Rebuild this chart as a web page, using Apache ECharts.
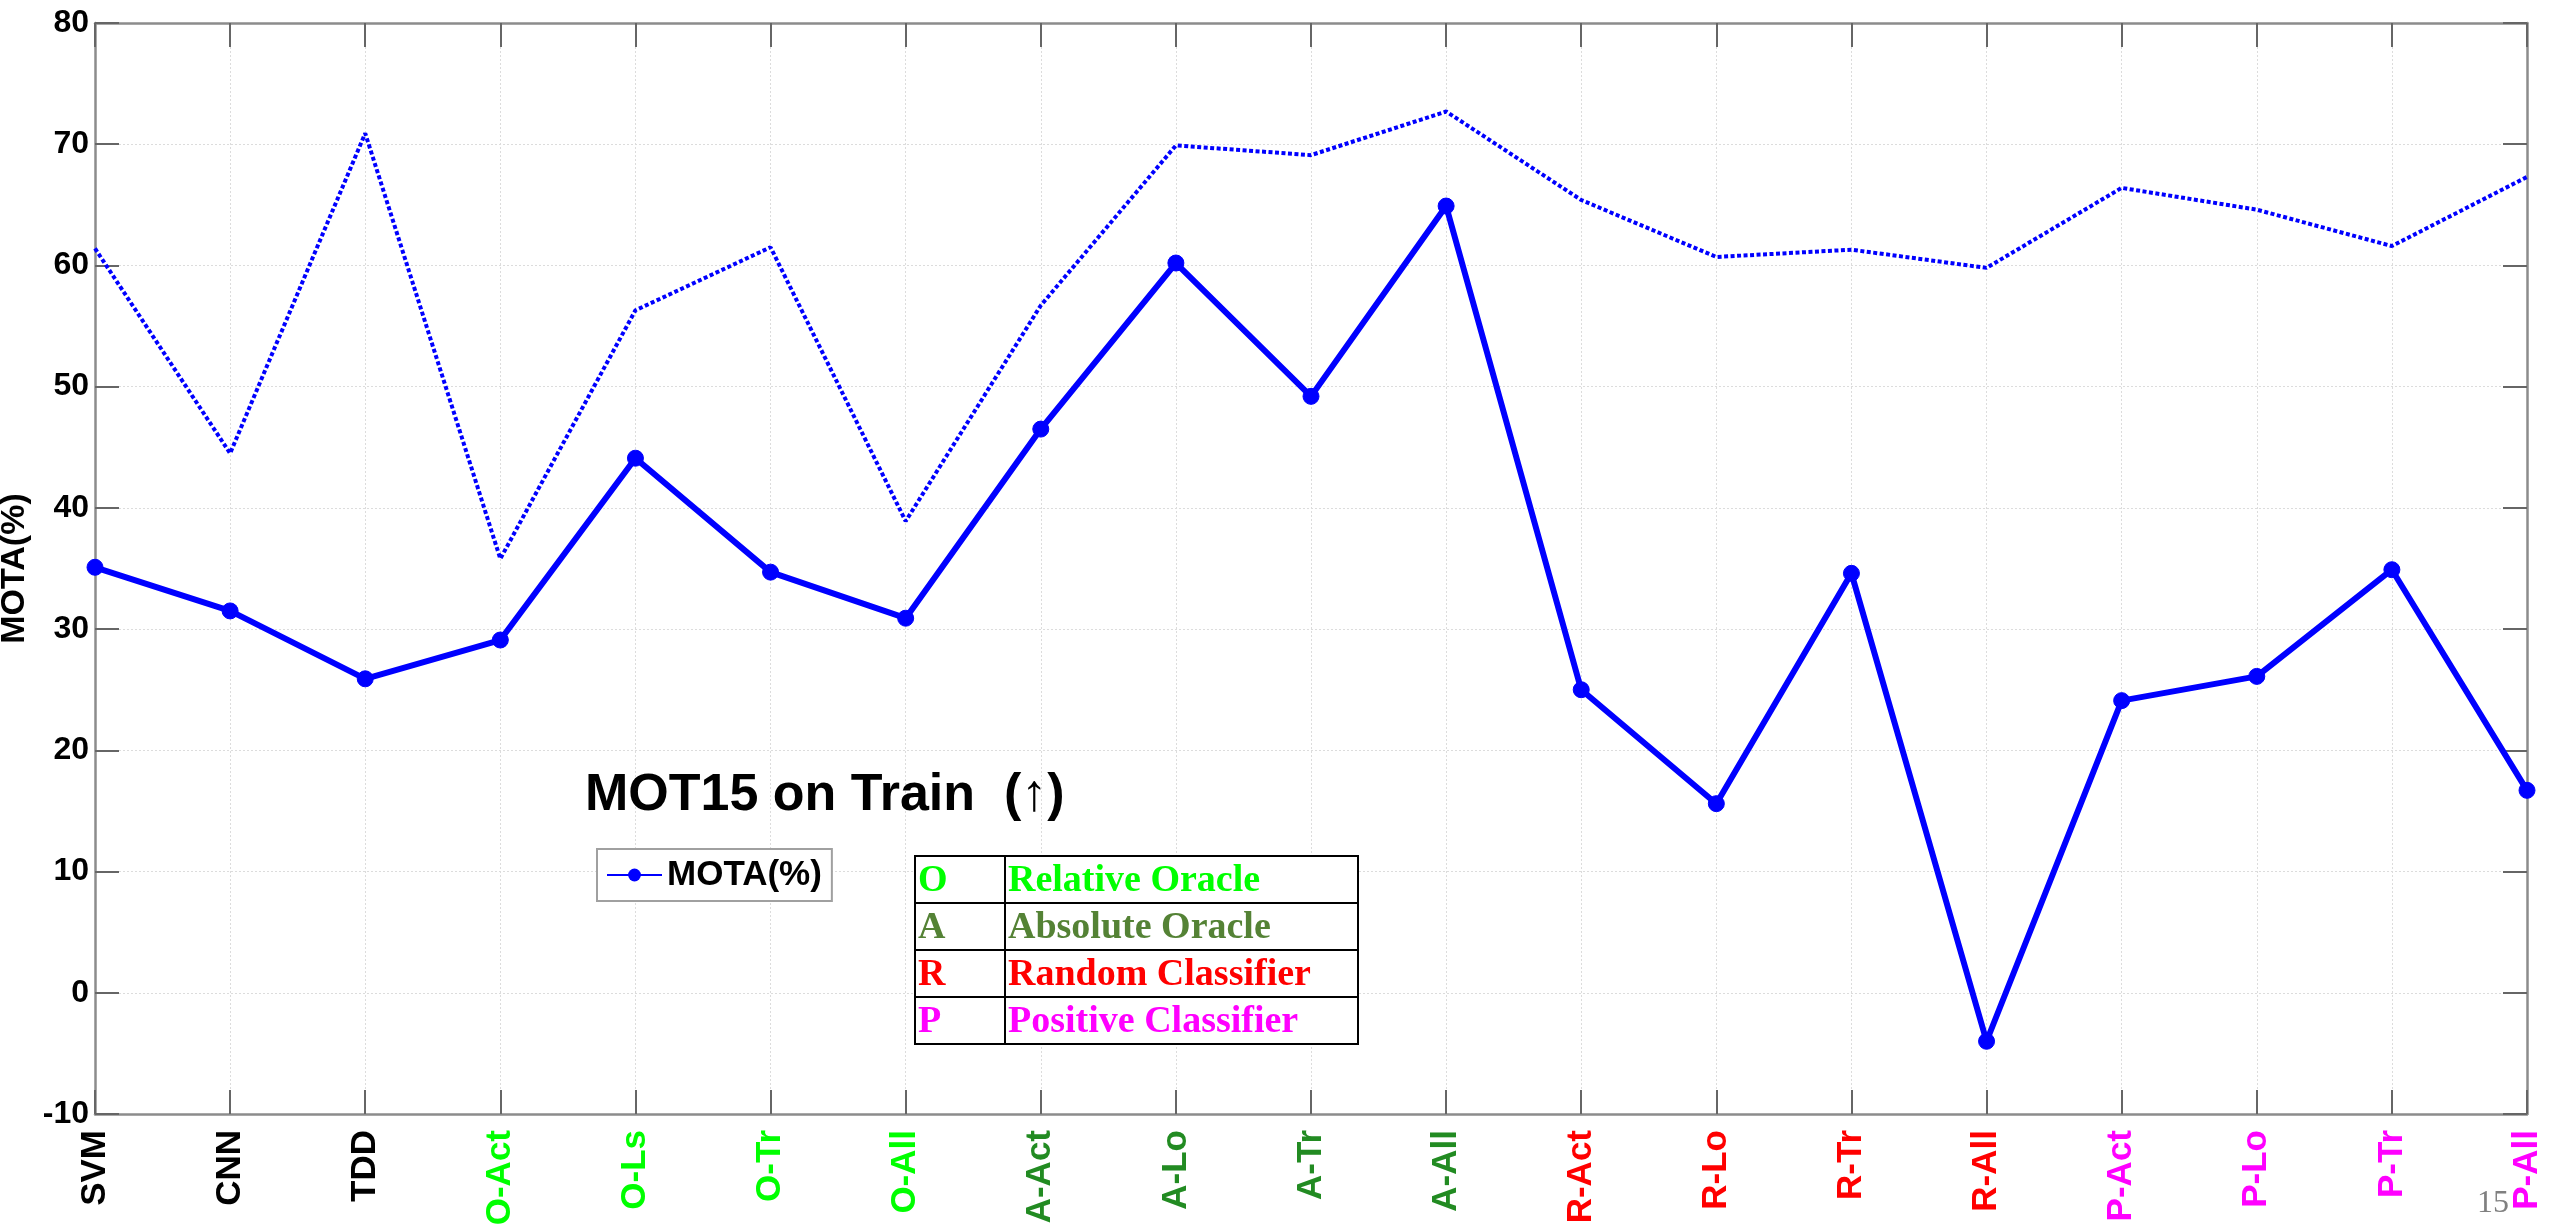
<!DOCTYPE html>
<html>
<head>
<meta charset="utf-8">
<script src="https://cdn.jsdelivr.net/npm/echarts@6/dist/echarts.min.js"></script>
<style>
html, body {margin:0; padding:0; background:#fff;}
#main {width:2560px; height:1226px;}
</style>
</head>
<body>
<div id="main"></div>
<script type="text/javascript">
// categories on the x axis
var methods = ['SVM','CNN','TDD','O-Act','O-Ls','O-Tr','O-All','A-Act','A-Lo','A-Tr','A-All',
               'R-Act','R-Lo','R-Tr','R-All','P-Act','P-Lo','P-Tr','P-All'];
// MOTA(%) - solid line with markers
var mota = [35.1, 31.5, 25.9, 29.1, 44.1, 34.7, 30.9, 46.5, 60.2, 49.2, 64.9,
            25.0, 15.6, 34.6, -4.0, 24.1, 26.1, 34.9, 16.7];
// dotted line (no legend entry)
var upper = [61.4, 44.5, 70.9, 35.8, 56.3, 61.5, 38.9, 56.7, 69.9, 69.1, 72.7,
             65.4, 60.7, 61.3, 59.8, 66.4, 64.6, 61.6, 67.3];
// y ticks
var yMin = -10, yMax = 80, yStep = 10;
// key table
var keyLetters = ['O','A','R','P'];
var keyNames = ['Relative Oracle','Absolute Oracle','Random Classifier','Positive Classifier'];

var prefixColor = {O:'#00ff00', A:'#228b22', R:'#ff0000', P:'#ff00ff'};
var tableColor = {O:'#00ff00', A:'#548235', R:'#ff0000', P:'#ff00ff'};

function labelColor(v) {
	var p = v.charAt(0);
	if (v.charAt(1) === '-' && prefixColor[p]) return prefixColor[p];
	return '#000';
}

var frame = '#8c8c8c';
var sans = '"Liberation Sans", Arial, sans-serif';
var serif = '"Liberation Serif", "Times New Roman", serif';

// table made of graphic pieces
var tx = 915, ty = 856, tw = 443, rowH = 47, colX = 1005;
var tableParts = [{
	type:'rect', shape:{x:tx, y:ty, width:tw, height:rowH*keyLetters.length},
	style:{fill:'#fff', stroke:'#000', lineWidth:2}, z:100
}, {
	type:'line', shape:{x1:colX, y1:ty, x2:colX, y2:ty+rowH*keyLetters.length},
	style:{stroke:'#000', lineWidth:2}, z:101
}];
for (var i = 0; i < keyLetters.length; i++) {
	if (i > 0) {
		tableParts.push({type:'line', shape:{x1:tx, y1:ty+rowH*i, x2:tx+tw, y2:ty+rowH*i},
			style:{stroke:'#000', lineWidth:2}, z:101});
	}
	var c = tableColor[keyLetters[i]];
	tableParts.push({type:'text', x:tx+3, y:ty+rowH*i+rowH/2+2, z:102,
		style:{text:keyLetters[i], fill:c, font:'bold 38px ' + serif,
			textAlign:'left', textVerticalAlign:'middle'}});
	tableParts.push({type:'text', x:colX+3, y:ty+rowH*i+rowH/2+2, z:102,
		style:{text:keyNames[i], fill:c, font:'bold 38px ' + serif,
			textAlign:'left', textVerticalAlign:'middle'}});
}

var myChart = echarts.init(document.getElementById('main'));
var option = {
	backgroundColor:'#fff',
	animation:false,
	grid:{left:95, right:33, top:23, bottom:112, containLabel:false, outerBoundsMode:'none'},
	legend:{
		data:['MOTA(%)'],
		left:597, top:849,
		orient:'vertical',
		padding:[6, 10, 6, 9],
		borderColor:'#a0a0a0', borderWidth:2,
		backgroundColor:'#fff',
		itemWidth:55, itemHeight:16,
		textStyle:{fontFamily:sans, fontWeight:'bold', fontSize:35, color:'#000', lineHeight:40}
	},
	xAxis:[{
		type:'category', data:methods, boundaryGap:false,
		axisLine:{onZero:false, lineStyle:{color:frame, width:2.5}},
		axisTick:{inside:true, length:24, lineStyle:{color:'#666', width:2}},
		axisLabel:{
			rotate:90, margin:16, interval:0,
			fontFamily:sans, fontWeight:'bold', fontSize:35,
			color:function (v) { return labelColor(v); }
		},
		splitLine:{show:true, lineStyle:{color:'#dcdcdc', width:1, type:[2,2]}}
	}, {
		type:'category', data:methods, boundaryGap:false, position:'top',
		axisLine:{onZero:false, lineStyle:{color:frame, width:2.5}},
		axisTick:{inside:true, length:24, lineStyle:{color:'#666', width:2}},
		axisLabel:{show:false}, splitLine:{show:false}
	}],
	yAxis:[{
		type:'value', min:yMin, max:yMax, interval:yStep,
		name:'MOTA(%)', nameLocation:'middle', nameRotate:90, nameGap:58,
		nameTextStyle:{fontFamily:sans, fontWeight:'bold', fontSize:34, color:'#000'},
		axisLine:{show:true, lineStyle:{color:frame, width:2.5}},
		axisTick:{show:true, inside:true, length:24, lineStyle:{color:'#666', width:2}},
		axisLabel:{margin:6, fontFamily:sans, fontWeight:'bold', fontSize:32, color:'#000'},
		splitLine:{show:true, lineStyle:{color:'#dcdcdc', width:1, type:[2,2]}}
	}, {
		type:'value', min:yMin, max:yMax, interval:yStep, position:'right',
		axisLine:{show:true, onZero:false, lineStyle:{color:frame, width:2.5}},
		axisTick:{show:true, inside:true, length:24, lineStyle:{color:'#666', width:2}},
		axisLabel:{show:false}, splitLine:{show:false}
	}],
	series:[{
		name:'upper',
		type:'line', data:upper,
		symbol:'none',
		lineStyle:{color:'#0000ff', width:4, type:[4,2.5]},
		itemStyle:{color:'#0000ff'},
		z:3
	}, {
		name:'MOTA(%)',
		type:'line', data:mota,
		symbol:'circle', symbolSize:16,
		lineStyle:{color:'#0000ff', width:6},
		itemStyle:{color:'#0000ff', borderColor:'#0000ff'},
		z:4
	}],
	graphic:[{
		type:'text', x:585, y:796, z:100,
		style:{text:'MOT15 on Train  (\u2191)', fill:'#000',
			font:'bold 52px ' + sans,
			textAlign:'left', textVerticalAlign:'middle'}
	}, {
		type:'text', x:2477, y:1204, z:100,
		style:{text:'15', fill:'#808080', font:'32px ' + serif,
			textAlign:'left', textVerticalAlign:'middle'}
	}, {
		type:'group', children:tableParts
	}]
};
if (option && typeof option === "object") {
	myChart.setOption(option, true);
}
</script>
</body>
</html>
